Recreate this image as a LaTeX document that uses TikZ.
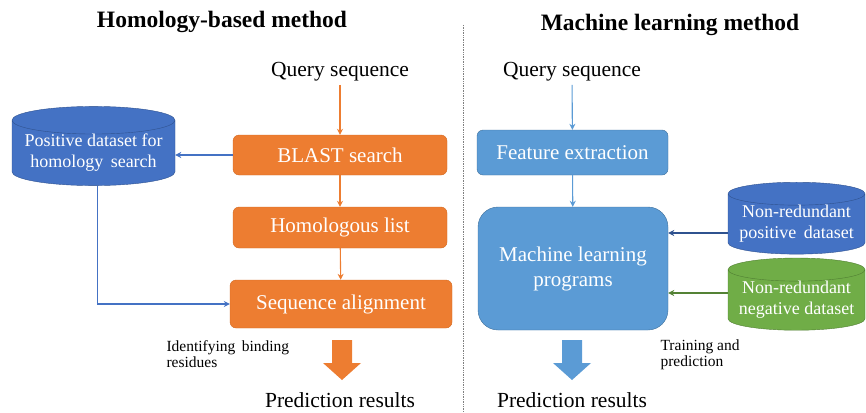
\documentclass[tikz,border=0pt]{standalone}
\usepackage{fontspec}
\setmainfont{LiberationSerif}[Extension=.ttf, UprightFont=*-Regular,
  BoldFont=*-Bold, ItalicFont=*-Italic, BoldItalicFont=*-BoldItalic]
\usetikzlibrary{arrows.meta,shapes.geometric,calc}

\definecolor{hmorange}{HTML}{ED7D31}
\definecolor{hmorangedk}{HTML}{D26A22}
\definecolor{mlblue}{HTML}{5B9BD5}
\definecolor{mlbluedk}{HTML}{41719C}
\definecolor{dbblue}{HTML}{4472C4}
\definecolor{dbbluedk}{HTML}{2F528F}
\definecolor{dbgreen}{HTML}{70AD47}
\definecolor{dbgreendk}{HTML}{507E32}
\definecolor{lkgreen}{HTML}{548235}

\tikzset{
  hmbox/.style={draw=hmorangedk, fill=hmorange, rounded corners=6pt, text=white,
    font=\fontsize{21}{23}\selectfont, inner sep=0pt},
  mlbox/.style={draw=mlbluedk, fill=mlblue, text=white,
    font=\fontsize{21}{25}\selectfont, inner sep=0pt, align=center},
  dbcyl/.style={cylinder, shape border rotate=90, aspect=0.2, draw=#1dk, fill=#1,
    text=white, inner sep=0pt, align=center, font=\fontsize{18}{21}\selectfont},
  plain/.style={font=\fontsize{21.5}{24}\selectfont},
  note/.style={font=\fontsize{15.5}{16.5}\selectfont, align=left, anchor=north west},
  title/.style={font=\fontsize{23.5}{26}\selectfont\bfseries},
  link/.style={line width=1.1pt, -{Stealth[length=6pt,width=6pt]}}
}
\newcommand{\downarrowshape}[2]{% centre x, colour
  \fill[#2] (#1-10,340) -- (#1+10,340) -- (#1+10,363) -- (#1+19,363)
    -- (#1,380) -- (#1-19,363) -- (#1-10,363) -- cycle;}

\begin{document}
\begin{tikzpicture}[x=1pt,y=-1pt]
\useasboundingbox (0,0) rectangle (866,412);

% titles and divider
\node[title] (thm) at (222,22) {Homology-based method};
\node[title] (tml) at (670,25) {Machine learning method};
\draw[densely dotted, line width=0.7pt, gray] (463,25) -- (463,412);

% homology-based side
\node[plain] (qL) at (340,72) {Query sequence};
\node[hmbox, minimum width=214pt, minimum height=40pt] (blast) at (340,155) {BLAST search};
\node[hmbox, minimum width=214pt, minimum height=41pt] (homo) at (340,227.5) {Homologous list};
\node[hmbox, minimum width=222pt, minimum height=48pt] (align) at (341,304) {Sequence alignment};
\node[dbcyl=dbblue, minimum width=163pt, minimum height=70pt] (posdb) at (93.5,153)
  {Positive dataset for\\homology\, search};
\node[note] (idn) at (163,337) {Identifying\, binding\\residues};
\downarrowshape{342}{hmorange}
\node[plain] (predL) at (340,400) {Prediction results};

\draw[link, hmorange] (qL) -- (blast);
\draw[link, hmorange] (blast) -- (homo);
\draw[link, hmorange] (homo) -- (align);
\draw[link, dbblue] (blast.west) -- (blast.west -| posdb.east);
\draw[link, dbblue] ([xshift=4pt]posdb.south) |- (align.west);

% machine learning side
\node[plain] (qR) at (572,72) {Query sequence};
\node[mlbox, rounded corners=6pt, minimum width=191pt, minimum height=45pt] (feat) at (572.5,152.5) {Feature extraction};
\node[mlbox, rounded corners=20pt, minimum width=190pt, minimum height=123pt] (mlp) at (573,268.5) {Machine learning\\programs};
\node[dbcyl=dbblue, minimum width=137pt, minimum height=68pt] (nrpos) at (796.5,224)
  {Non-redundant\\positive\, dataset};
\node[dbcyl=dbgreen, minimum width=137pt, minimum height=68pt] (nrneg) at (796.5,300)
  {Non-redundant\\negative dataset};
\node[note] (trn) at (657,336) {Training and\\prediction};
\downarrowshape{572}{mlblue}
\node[plain] (predR) at (572,400) {Prediction results};

\draw[link, mlblue] (qR) -- (feat);
\draw[link, mlblue] (feat) -- (mlp);
\draw[link, dbbluedk] (nrpos.west |- 0,233) -- (mlp.east |- 0,233);
\draw[link, lkgreen] (nrneg.west |- 0,293) -- (mlp.east |- 0,293);
\end{tikzpicture}
\end{document}
